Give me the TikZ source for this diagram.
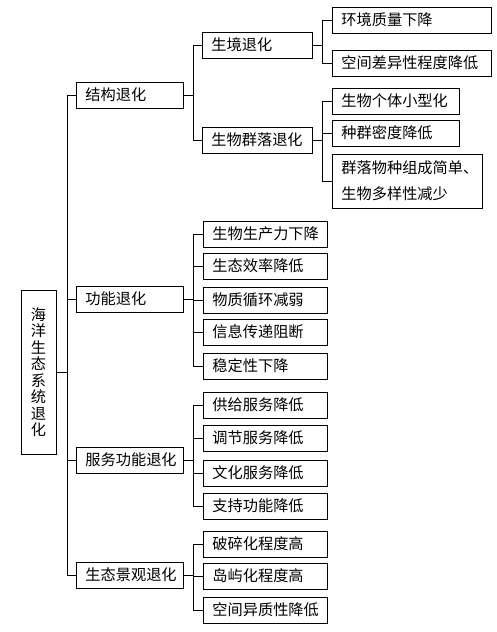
\documentclass[tikz,border=0pt]{standalone}
\usepackage{fontspec}
\setmainfont{Noto Sans CJK SC}

\tikzset{
    box/.style={draw, line width=0.9pt, anchor=west, align=left, text width=#1,
        inner xsep=9pt, inner ysep=0pt, minimum height=26pt,
        font=\fontsize{15.2}{26}\selectfont},
    conn/.style={line width=0.9pt},
}

\begin{document}
\begin{tikzpicture}[x=1pt, y=-1pt]
    \useasboundingbox (0,0) rectangle (496,632);

    % root
    \node[draw, line width=0.9pt, minimum width=35pt, minimum height=164pt, inner sep=0pt,
        align=center, font=\fontsize{15.2}{16.5}\selectfont] (root) at (38.5,372)
        {海\\洋\\生\\态\\系\\统\\退\\化};

    % first level
    \node[box=89pt] (jg) at (76,95) {结构退化};
    \node[box=89pt] (gn) at (76,299) {功能退化};
    \node[box=89pt] (fw) at (76,460) {服务功能退化};
    \node[box=89pt] (jy) at (76,575) {生态景观退化};

    % structure
    \node[box=92pt] (sj) at (202,45) {生境退化};
    \node[box=92pt] (ql) at (202,140) {生物群落退化};

    \node[box=141pt] (hj) at (332,20) {环境质量下降};
    \node[box=141pt] (kj) at (332,63) {空间差异性程度降低};
    \node[box=109pt] (gt) at (332,101) {生物个体小型化};
    \node[box=109pt] (md) at (332,133) {种群密度降低};
    \node[box=132pt, minimum height=54pt] (dy) at (332,181) {群落物种组成简单、\\生物多样性减少};

    % function
    \node[box=106pt] (scl) at (203,234) {生物生产力下降};
    \node[box=106pt] (xl) at (203,266) {生态效率降低};
    \node[box=106pt] (xh) at (203,300) {物质循环减弱};
    \node[box=106pt] (xx) at (203,332) {信息传递阻断};
    \node[box=106pt] (wd) at (203,366) {稳定性下降};

    % service
    \node[box=106pt] (gj) at (203,405) {供给服务降低};
    \node[box=106pt] (tj) at (203,438) {调节服务降低};
    \node[box=106pt] (wh) at (203,473) {文化服务降低};
    \node[box=106pt] (zc) at (203,506) {支持功能降低};

    % landscape
    \node[box=106pt] (ps) at (203,544) {破碎化程度高};
    \node[box=106pt] (dx) at (203,576) {岛屿化程度高};
    \node[box=106pt] (yz) at (203,610) {空间异质性降低};

    % connectors
    \draw[conn] (root.east) -- ++(11,0) |- (jg.west);
    \draw[conn] (root.east) -- ++(11,0) |- (gn.west);
    \draw[conn] (root.east) -- ++(11,0) |- (fw.west);
    \draw[conn] (root.east) -- ++(11,0) |- (jy.west);

    \draw[conn] (jg.east) -- ++(10,0) |- (sj.west);
    \draw[conn] (jg.east) -- ++(10,0) |- (ql.west);
    \draw[conn] (sj.east) -- ++(10,0) |- (hj.west);
    \draw[conn] (sj.east) -- ++(10,0) |- (kj.west);
    \draw[conn] (ql.east) -- ++(10,0) |- (gt.west);
    \draw[conn] (ql.east) -- ++(10,0) |- (md.west);
    \draw[conn] (ql.east) -- ++(10,0) |- (dy.west);

    \draw[conn] (gn.east) -- ++(10,0) |- (scl.west);
    \draw[conn] (gn.east) -- ++(10,0) |- (xl.west);
    \draw[conn] (gn.east) -- ++(10,0) |- (xh.west);
    \draw[conn] (gn.east) -- ++(10,0) |- (xx.west);
    \draw[conn] (gn.east) -- ++(10,0) |- (wd.west);

    \draw[conn] (fw.east) -- ++(10,0) |- (gj.west);
    \draw[conn] (fw.east) -- ++(10,0) |- (tj.west);
    \draw[conn] (fw.east) -- ++(10,0) |- (wh.west);
    \draw[conn] (fw.east) -- ++(10,0) |- (zc.west);

    \draw[conn] (jy.east) -- ++(10,0) |- (ps.west);
    \draw[conn] (jy.east) -- ++(10,0) |- (dx.west);
    \draw[conn] (jy.east) -- ++(10,0) |- (yz.west);
\end{tikzpicture}
\end{document}
